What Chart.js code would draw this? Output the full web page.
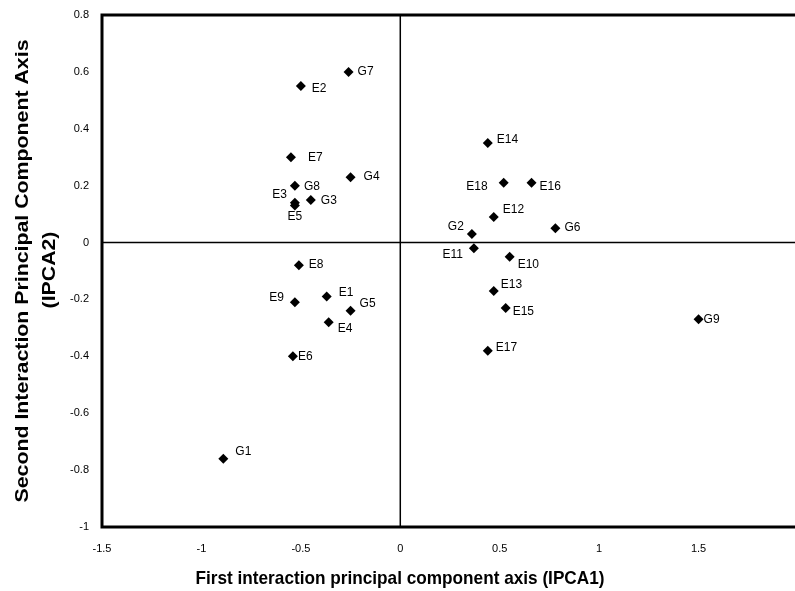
<!DOCTYPE html>
<html>
<head>
<meta charset="utf-8">
<script src="https://cdn.jsdelivr.net/npm/chart.js@4.4.1/dist/chart.umd.min.js"></script>
<style>
  html, body { margin: 0; padding: 0; background: #fff; overflow: hidden; }
</style>
</head>
<body>
<canvas id="myChart" width="803" height="591"></canvas>
<script>
// genotypes (G) and environments (E)
const pointNames = ["G1", "G2", "G3", "G4", "G5", "G6", "G7", "G8", "G9",
  "E1", "E2", "E3", "E4", "E5", "E6", "E7", "E8", "E9",
  "E10", "E11", "E12", "E13", "E14", "E15", "E16", "E17", "E18"];
const ipca1 = [-0.89, 0.36, -0.45, -0.25, -0.25, 0.78, -0.26, -0.53, 1.50,
  -0.37, -0.50, -0.53, -0.36, -0.53, -0.54, -0.55, -0.51, -0.53,
  0.55, 0.37, 0.47, 0.47, 0.44, 0.53, 0.66, 0.44, 0.52];
const ipca2 = [-0.76, 0.03, 0.15, 0.23, -0.24, 0.05, 0.60, 0.20, -0.27,
  -0.19, 0.55, 0.14, -0.28, 0.13, -0.40, 0.30, -0.08, -0.21,
  -0.05, -0.02, 0.09, -0.17, 0.35, -0.23, 0.21, -0.38, 0.21];
const xTicks = [-1.5, -1, -0.5, 0, 0.5, 1, 1.5, 2];
const yTicks = [0.8, 0.6, 0.4, 0.2, 0, -0.2, -0.4, -0.6, -0.8, -1];
const xTitle = "First interaction principal component axis (IPCA1)";
const yTitle = ["Second Interaction Principal Component Axis", "(IPCA2)"];

// where each label sits next to its marker: [dx, dy, align]
const labelOffsets = {
  G1: [12, -7, "left"], G2: [-8, -7, "right"], G3: [10, 1, "left"],
  G4: [13, 0, "left"], G5: [9, -7, "left"], G6: [9, -1, "left"],
  G7: [9, 0, "left"], G8: [9, 1, "left"], G9: [5, 0, "left"],
  E1: [12, -4, "left"], E2: [11, 3, "left"], E3: [-8, -8, "right"],
  E4: [9, 6, "left"], E5: [0, 11, "center"], E6: [5, 0, "left"],
  E7: [17, 0, "left"], E8: [10, -1, "left"], E9: [-11, -5, "right"],
  E10: [8, 8, "left"], E11: [-11, 6, "right"], E12: [9, -7, "left"],
  E13: [7, -6, "left"], E14: [9, -3, "left"], E15: [7, 4, "left"],
  E16: [8, 4, "left"], E17: [8, -3, "left"], E18: [-16, 4, "right"]
};

const points = pointNames.map((name, i) => {
  return { x: ipca1[i], y: ipca2[i] };
});

const FONT = "'Liberation Sans', Arial, sans-serif";

const labelPlugin = {
  id: "pointLabels",
  afterDatasetsDraw(chart) {
    const ctx = chart.ctx;
    const meta = chart.getDatasetMeta(0);
    ctx.save();
    ctx.fillStyle = "#000";
    ctx.font = "12px " + FONT;
    ctx.textBaseline = "middle";
    meta.data.forEach((pt, i) => {
      const off = labelOffsets[pointNames[i]];
      ctx.textAlign = off[2];
      ctx.fillText(pointNames[i], pt.x + off[0], pt.y + off[1]);
    });
    ctx.restore();
  }
};

const framePlugin = {
  id: "frame",
  beforeDatasetsDraw(chart) {
    const ctx = chart.ctx;
    const area = chart.chartArea;
    const x0 = chart.scales.x.getPixelForValue(0);
    const y0 = chart.scales.y.getPixelForValue(0);
    ctx.save();
    ctx.strokeStyle = "#000";
    ctx.lineWidth = 1.5;
    ctx.beginPath();
    ctx.moveTo(x0, area.top);
    ctx.lineTo(x0, area.bottom);
    ctx.moveTo(area.left, y0);
    ctx.lineTo(area.right, y0);
    ctx.stroke();
    ctx.lineWidth = 3;
    ctx.strokeRect(area.left, area.top, area.right - area.left, area.bottom - area.top);
    ctx.restore();
  }
};

// axis titles; the scan is squeezed sideways, so stretch text to its length
function drawStretched(ctx, text, length) {
  const w = ctx.measureText(text).width;
  ctx.save();
  ctx.scale(length / w, 1);
  ctx.fillText(text, 0, 0);
  ctx.restore();
}

const titlePlugin = {
  id: "axisTitles",
  afterDraw(chart) {
    const ctx = chart.ctx;
    ctx.save();
    ctx.fillStyle = "#000";
    ctx.font = "bold 19px " + FONT;
    ctx.textAlign = "center";
    ctx.textBaseline = "alphabetic";

    ctx.save();
    ctx.translate(400, 584);
    drawStretched(ctx, xTitle, 409);
    ctx.restore();

    ctx.save();
    ctx.translate(28, 271);
    ctx.rotate(-Math.PI / 2);
    drawStretched(ctx, yTitle[0], 463);
    ctx.restore();

    ctx.save();
    ctx.translate(55, 270);
    ctx.rotate(-Math.PI / 2);
    const w2 = ctx.measureText(yTitle[1]).width;
    drawStretched(ctx, yTitle[1], w2 * 1.12);
    ctx.restore();

    ctx.restore();
  }
};

new Chart(document.getElementById("myChart"), {
  type: "scatter",
  data: {
    datasets: [{
      data: points,
      pointStyle: "rectRot",
      pointRadius: 5,
      pointBackgroundColor: "#000",
      pointBorderColor: "#000",
      pointBorderWidth: 0
    }]
  },
  options: {
    responsive: false,
    animation: false,
    layout: { padding: { top: 15, right: 0, left: 0, bottom: 0 } },
    plugins: { legend: { display: false }, tooltip: { enabled: false } },
    scales: {
      x: {
        type: "linear",
        min: -1.5,
        max: 2,
        afterBuildTicks(scale) {
          scale.ticks = xTicks.map((v) => ({ value: v }));
        },
        afterFit(scale) {
          scale.height = 64;
          scale.paddingLeft = 0;
          scale.paddingRight = 0;
        },
        grid: { display: false },
        border: { display: false },
        ticks: {
          color: "#000",
          font: { family: FONT, size: 11 },
          padding: 7,
          maxRotation: 0,
          callback: (v) => String(v)
        }
      },
      y: {
        type: "linear",
        min: -1,
        max: 0.8,
        afterBuildTicks(scale) {
          scale.ticks = yTicks.map((v) => ({ value: v }));
        },
        afterFit(scale) {
          scale.width = 102;
          scale.paddingTop = 0;
          scale.paddingBottom = 0;
        },
        grid: { display: false },
        border: { display: false },
        ticks: {
          color: "#000",
          font: { family: FONT, size: 11 },
          padding: 5,
          callback: (v) => String(v)
        }
      }
    }
  },
  plugins: [framePlugin, labelPlugin, titlePlugin]
});
</script>
</body>
</html>
